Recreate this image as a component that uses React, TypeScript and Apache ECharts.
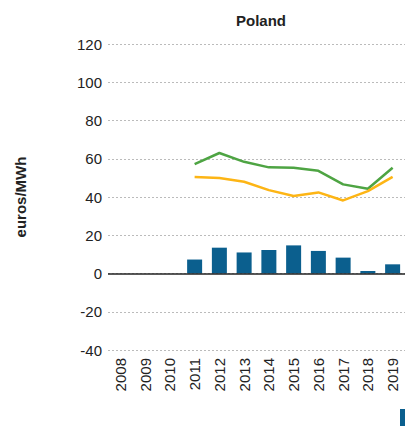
import React, { useEffect, useRef } from "react";
import * as echarts from "echarts";

const years = ["2008", "2009", "2010", "2011", "2012", "2013", "2014", "2015", "2016", "2017", "2018", "2019"];
const barValues = [null, null, null, 7.3, 13.5, 11, 12.3, 14.7, 11.8, 8.3, 1.3, 4.8];
const greenValues = [null, null, null, 57.2, 63, 58.4, 55.5, 55.3, 53.7, 46.6, 44.3, 55.3];
const orangeValues = [null, null, null, 50.4, 49.9, 48, 43.6, 40.5, 42.4, 38.2, 43.1, 50.5];

export default function App() {
  const ref = useRef<HTMLDivElement>(null);
  useEffect(() => {
    if (!ref.current) return;
    const chart = echarts.init(ref.current, null, { renderer: "svg" });
    const font = "'Liberation Sans', Arial, sans-serif";
    chart.setOption({
      animation: false,
      title: {
        text: "Poland",
        left: 256,
        textAlign: "center",
        top: 8,
        textStyle: { fontFamily: font, fontSize: 15, fontWeight: "bold", color: "#222" },
      },
      grid: { left: 108, right: 0, top: 44, bottom: 82, containLabel: false },
      xAxis: {
        type: "category",
        data: years,
        axisLine: { show: false },
        axisTick: { show: false },
        axisLabel: {
          rotate: 90,
          interval: 0,
          margin: 8,
          fontFamily: font,
          fontSize: 15,
          color: "#222",
        },
      },
      yAxis: {
        type: "value",
        min: -40,
        max: 120,
        interval: 20,
        name: "euros/MWh",
        nameLocation: "middle",
        nameGap: 80,
        nameTextStyle: { fontFamily: font, fontSize: 15, fontWeight: "bold", color: "#222" },
        axisLine: { show: false },
        axisTick: { show: false },
        axisLabel: { fontFamily: font, fontSize: 15, color: "#222", margin: 6 },
        splitLine: { lineStyle: { type: [2, 2], color: "#bbb", width: 1 } },
      },
      series: [
        {
          type: "bar",
          data: barValues,
          barWidth: 15,
          itemStyle: { color: "#0b5f8e" },
          markLine: {
            silent: true,
            symbol: "none",
            label: { show: false },
            lineStyle: { color: "#222", type: "solid", width: 1.5 },
            data: [{ yAxis: 0 }],
          },
        },
        {
          type: "line",
          data: greenValues,
          symbol: "none",
          lineStyle: { color: "#4ea443", width: 2.5 },
        },
        {
          type: "line",
          data: orangeValues,
          symbol: "none",
          lineStyle: { color: "#fdb515", width: 2.5 },
        },
      ],
      graphic: [
        {
          type: "rect",
          left: 400,
          top: 409,
          shape: { width: 5, height: 17 },
          style: { fill: "#0b5f8e" },
        },
      ],
    });
    return () => chart.dispose();
  }, []);
  return <div ref={ref} style={{ width: 405, height: 432, position: "absolute", left: 0, top: 0 }} />;
}
